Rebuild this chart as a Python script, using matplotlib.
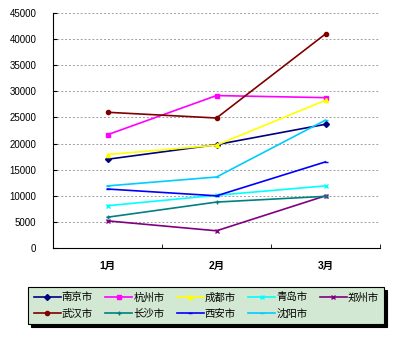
import matplotlib

matplotlib.use("Agg")
import matplotlib.pyplot as plt

plt.rcParams["font.family"] = ["Liberation Sans", "Noto Sans CJK SC", "DejaVu Sans"]

months = ["1月", "2月", "3月"]
cities = ["南京市", "杭州市", "成都市", "青岛市", "郑州市",
          "武汉市", "长沙市", "西安市", "沈阳市"]
nanjing = [17000, 19800, 23700]
hangzhou = [21700, 29200, 28800]
chengdu = [17900, 19700, 28300]
qingdao = [8100, 10100, 11900]
zhengzhou = [5200, 3300, 10000]
wuhan = [26000, 24900, 41000]
changsha = [5900, 8800, 9900]
xian = [11300, 10000, 16500]
shenyang = [11900, 13600, 24500]

series = [nanjing, hangzhou, chengdu, qingdao, zhengzhou,
          wuhan, changsha, xian, shenyang]
colors = ["#000080", "#ff00ff", "#ffff00", "#00ffff", "#800080",
          "#800000", "#008080", "#0000ff", "#00ccff"]
markers = ["D", "s", "^", "x", "x", "o", "+", "_", "_"]

fig = plt.figure(figsize=(4.0, 3.44), dpi=100)
ax = fig.add_axes([0.1325, 0.279, 0.8175, 0.683])

x = range(len(months))
lines = []
for name, vals, c, m in zip(cities, series, colors, markers):
    ln, = ax.plot(x, vals, color=c, lw=1.2, marker=m, markersize=3,
                  markeredgewidth=1.0, label=name)
    lines.append(ln)

ax.set_xlim(-0.5, 2.5)
ax.set_ylim(0, 45000)
ax.set_yticks(range(0, 45001, 5000))
ax.set_xticks(x)
ax.set_xticklabels(months, fontsize=7.5, fontweight="bold")
ax.set_xticks([0.5, 1.5, 2.5], minor=True)
ax.tick_params(axis="x", which="major", length=0, pad=9)
ax.tick_params(axis="x", which="minor", direction="in", length=3)
ax.tick_params(axis="y", direction="in", length=3, pad=12, labelsize=7)
for spine in ("top", "right"):
    ax.spines[spine].set_visible(False)
ax.grid(axis="y", color="#a0a0a0", ls=(0, (2, 2)), lw=0.7)
ax.set_axisbelow(True)

# legend fills column by column; reorder so the rows read left to right
order = [0, 5, 1, 6, 2, 7, 3, 8, 4]
leg = fig.legend([lines[i] for i in order], [cities[i] for i in order],
                 loc="lower left", bbox_to_anchor=(0.058, 0.043, 0.915, 0.134),
                 mode="expand", ncol=5, fontsize=7.5, frameon=True,
                 fancybox=False, shadow={"color": "black", "alpha": 1},
                 handlelength=2.6, handletextpad=0.1, columnspacing=0.6,
                 borderpad=0.5, labelspacing=0.6)
leg.get_frame().set_facecolor("#d2e8d2")
leg.get_frame().set_edgecolor("black")
leg.get_frame().set_linewidth(0.8)

fig.savefig("out.png", dpi=100)
